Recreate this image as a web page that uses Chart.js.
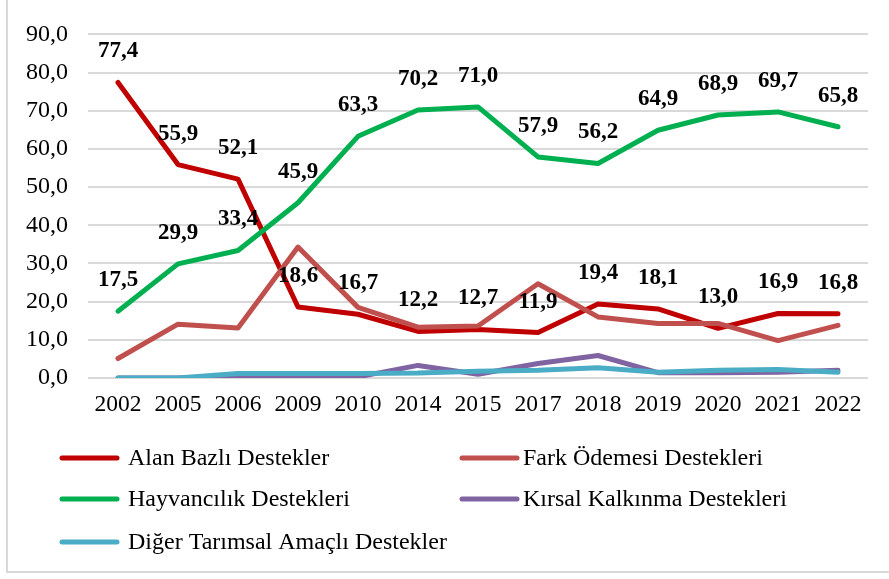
<!DOCTYPE html>
<html>
<head>
<meta charset="utf-8">
<script src="https://cdn.jsdelivr.net/npm/chart.js@4"></script>
<style>
  body { margin: 0; background: #fff; }
  #wrap { position: relative; width: 889px; height: 579px; }
  #frame { position: absolute; left: 6px; top: -2px; width: 900px; height: 575px; border: 2px solid #d9d9d9; box-sizing: border-box; pointer-events: none; }
  canvas { position: absolute; left: 0; top: 0; }
</style>
</head>
<body>
<div id="wrap">
  <canvas id="supportChart" width="889" height="579"></canvas>
  <div id="frame"></div>
</div>
<script>
const years = ['2002', '2005', '2006', '2009', '2010', '2014', '2015', '2017', '2018', '2019', '2020', '2021', '2022'];
const alanBazli   = [77.4, 55.9, 52.1, 18.6, 16.7, 12.2, 12.7, 11.9, 19.4, 18.1, 13.0, 16.9, 16.8];
const farkOdemesi = [5.1, 14.1, 13.1, 34.3, 18.5, 13.3, 13.6, 24.7, 16.0, 14.3, 14.3, 9.8, 13.8];
const hayvancilik = [17.5, 29.9, 33.4, 45.9, 63.3, 70.2, 71.0, 57.9, 56.2, 64.9, 68.9, 69.7, 65.8];
const kirsal      = [0.0, 0.0, 0.3, 0.3, 0.3, 3.3, 1.0, 3.8, 5.9, 1.4, 1.4, 1.5, 2.0];
const diger       = [0.0, 0.0, 1.2, 1.2, 1.2, 1.3, 1.8, 2.0, 2.7, 1.5, 2.0, 2.2, 1.5];

const seriesNames = ['Alan Bazlı Destekler', 'Fark Ödemesi Destekleri', 'Hayvancılık Destekleri', 'Kırsal Kalkınma Destekleri', 'Diğer Tarımsal Amaçlı Destekler'];
const seriesColors = ['#C00000', '#C0504D', '#00B050', '#8064A2', '#4BACC6'];
const labelledSeries = [0, 2];

const fmt = v => v.toFixed(1).replace('.', ',');
const serif = '"Liberation Serif", "Times New Roman", serif';

function makeDataset(i, values) {
    return {
        label: seriesNames[i],
        data: values,
        borderColor: seriesColors[i],
        backgroundColor: seriesColors[i],
        borderWidth: 5,
        borderCapStyle: 'round',
        borderJoinStyle: 'round',
        pointRadius: 0,
        tension: 0,
        order: 5 - i
    };
}

// value labels above the points of the labelled series
const valueLabels = {
    id: 'valueLabels',
    afterDatasetsDraw(chart) {
        const ctx = chart.ctx;
        ctx.save();
        ctx.font = 'bold 23px ' + serif;
        ctx.fillStyle = '#000';
        ctx.textAlign = 'center';
        ctx.textBaseline = 'middle';
        labelledSeries.forEach(di => {
            const meta = chart.getDatasetMeta(di);
            meta.data.forEach((pt, j) => {
                ctx.fillText(fmt(chart.data.datasets[di].data[j]), pt.x, pt.y - 31);
            });
        });
        ctx.restore();
    }
};

// legend drawn in two columns under the plot
const gridLegend = {
    id: 'gridLegend',
    afterDraw(chart) {
        const ctx = chart.ctx;
        const cols = [62, 462];
        const rows = [458, 499, 542];
        ctx.save();
        ctx.font = '24px ' + serif;
        ctx.textBaseline = 'middle';
        ctx.textAlign = 'left';
        chart.data.datasets.forEach((ds, i) => {
            const x = cols[i % 2];
            const y = rows[Math.floor(i / 2)];
            ctx.strokeStyle = ds.borderColor;
            ctx.lineWidth = 5;
            ctx.lineCap = 'round';
            ctx.beginPath();
            ctx.moveTo(x, y);
            ctx.lineTo(x + 55, y);
            ctx.stroke();
            ctx.fillStyle = '#000';
            ctx.fillText(ds.label, x + (i % 2 ? 61 : 66), y + 1);
        });
        ctx.restore();
    }
};

new Chart(document.getElementById('supportChart'), {
    type: 'line',
    data: {
        labels: years,
        datasets: [
            makeDataset(0, alanBazli),
            makeDataset(1, farkOdemesi),
            makeDataset(2, hayvancilik),
            makeDataset(3, kirsal),
            makeDataset(4, diger)
        ]
    },
    options: {
        responsive: false,
        animation: false,
        layout: { padding: { left: 0, right: 21, top: 28, bottom: 0 } },
        plugins: {
            legend: { display: false },
            tooltip: { enabled: false }
        },
        scales: {
            x: {
                offset: true,
                grid: { display: false, drawTicks: false },
                border: { display: false },
                ticks: { color: '#000', font: { family: serif, size: 23.5 }, padding: 13, maxRotation: 0, autoSkip: false },
                afterFit: s => { s.height = 201; }
            },
            y: {
                min: 0,
                max: 90,
                ticks: { stepSize: 10, color: '#000', font: { family: serif, size: 24 }, padding: 20, callback: v => fmt(v) },
                grid: { color: '#d9d9d9', lineWidth: 2, drawTicks: false },
                border: { display: false },
                afterFit: s => { s.width = 88; }
            }
        }
    },
    plugins: [valueLabels, gridLegend]
});
</script>
</body>
</html>
